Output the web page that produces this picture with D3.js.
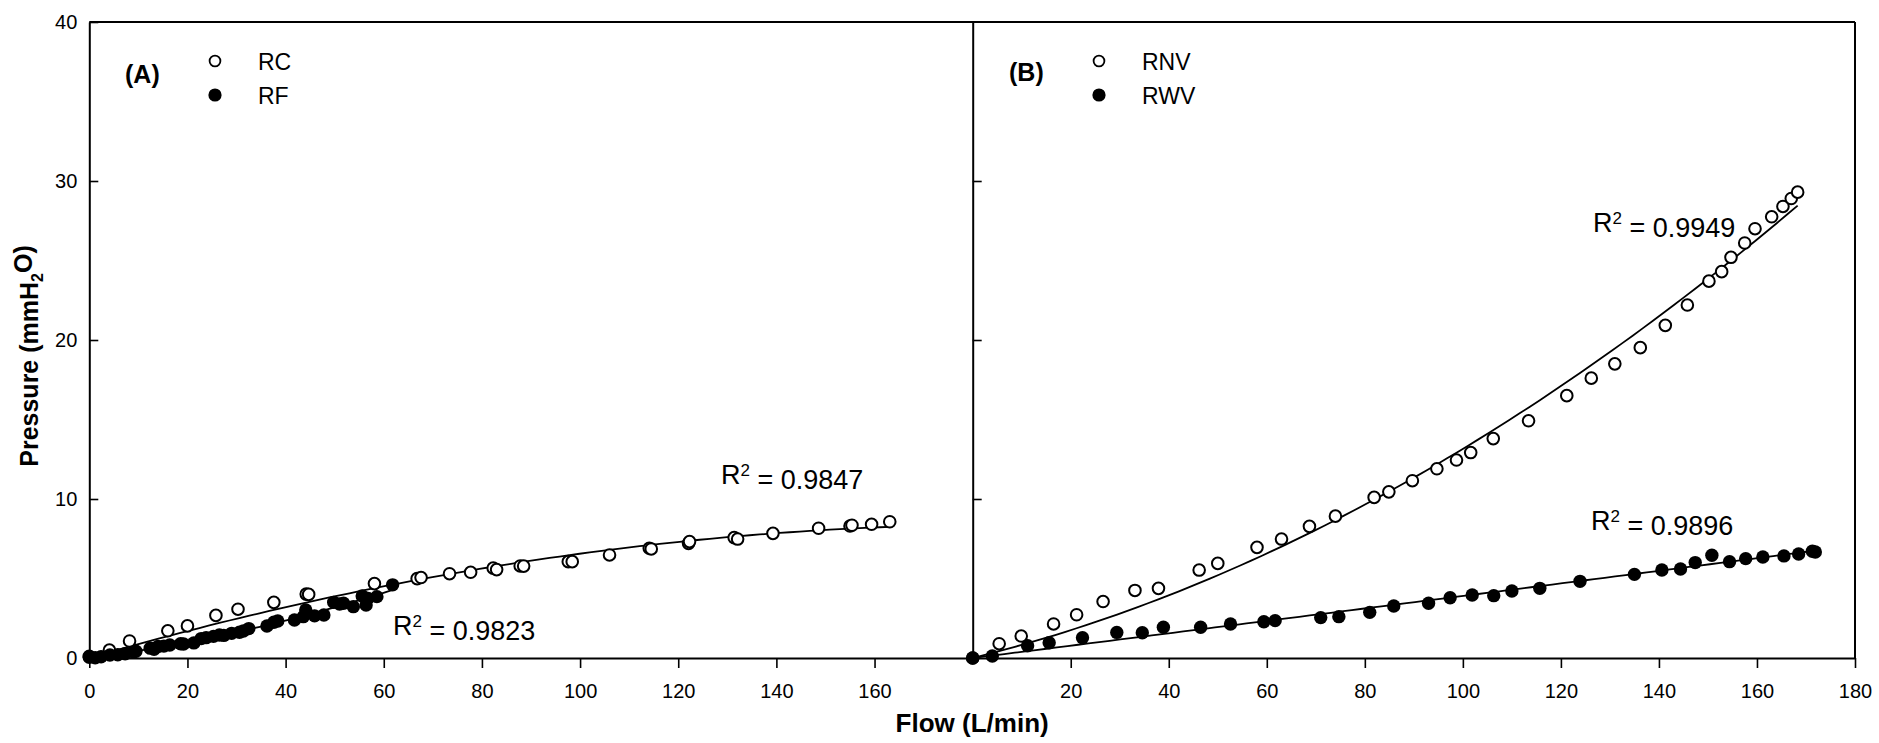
<!DOCTYPE html>
<html>
<head>
<meta charset="utf-8">
<script src="https://cdn.jsdelivr.net/npm/d3@7"></script>
<style>
  body { margin: 0; background: #fff; }
  svg text { font-family: "Liberation Sans", Arial, sans-serif; fill: #000; }
</style>
</head>
<body>
<div id="chart"></div>
<script>
// panel A : RC (open) and RF (filled)
const rcFlow = [0, 4.1, 8.2, 16.0, 20.0, 25.8, 30.3, 37.6, 44.2, 44.7, 58.1, 66.8, 67.6, 73.4, 77.7, 82.3, 83.0, 87.8, 88.5, 97.6, 98.4, 106.0, 114.1, 114.5, 122.1, 122.3, 131.4, 132.1, 139.3, 148.6, 155.0, 155.4, 159.4, 163.1];
const rcPressure = [0.1, 0.5, 1.07, 1.71, 2.02, 2.68, 3.07, 3.5, 4.02, 4.0, 4.68, 4.99, 5.06, 5.3, 5.39, 5.65, 5.56, 5.79, 5.78, 6.06, 6.06, 6.48, 6.9, 6.86, 7.21, 7.32, 7.57, 7.48, 7.84, 8.16, 8.3, 8.35, 8.41, 8.57];

const rfFlow = [0, 1.2, 2.4, 4.2, 5.8, 7.3, 9.0, 9.5, 12.4, 13.2, 14.0, 15.2, 16.4, 18.6, 19.2, 21.3, 22.8, 23.8, 25.3, 26.5, 27.4, 29.0, 30.6, 31.4, 32.5, 36.2, 37.6, 38.4, 41.8, 43.6, 44.1, 45.9, 47.8, 49.8, 51.0, 51.8, 53.8, 55.6, 56.4, 56.8, 58.6, 61.8];
const rfPressure = [0.05, 0.02, 0.08, 0.19, 0.2, 0.27, 0.38, 0.42, 0.62, 0.55, 0.72, 0.75, 0.82, 0.9, 0.88, 0.95, 1.22, 1.28, 1.36, 1.45, 1.42, 1.55, 1.62, 1.7, 1.85, 2.01, 2.25, 2.33, 2.39, 2.6, 3.02, 2.65, 2.7, 3.5, 3.4, 3.44, 3.23, 3.9, 3.33, 3.75, 3.86, 4.6];

// panel B : RNV (open) and RWV (filled)
const rnvFlow = [0, 5.4, 9.9, 16.5, 21.2, 26.6, 33.1, 37.9, 46.2, 50.0, 58.0, 63.0, 68.7, 74.0, 81.9, 84.9, 89.7, 94.7, 98.7, 101.6, 106.2, 113.4, 121.2, 126.2, 131.0, 136.2, 141.3, 145.8, 150.2, 152.8, 154.7, 157.5, 159.6, 163.0, 165.3, 167.0, 168.3];
const rnvPressure = [0, 0.9, 1.38, 2.14, 2.72, 3.55, 4.25, 4.38, 5.53, 5.95, 6.96, 7.48, 8.28, 8.92, 10.1, 10.45, 11.15, 11.9, 12.45, 12.92, 13.8, 14.92, 16.5, 17.6, 18.5, 19.52, 20.92, 22.2, 23.7, 24.3, 25.2, 26.1, 27.0, 27.75, 28.4, 28.9, 29.3];

const rwvFlow = [0, 4.0, 11.2, 15.6, 22.4, 29.4, 34.6, 38.9, 46.5, 52.6, 59.4, 61.7, 71.0, 74.7, 81.0, 85.9, 93.0, 97.4, 101.9, 106.3, 110.0, 115.7, 123.9, 135.0, 140.6, 144.4, 147.4, 150.8, 154.4, 157.7, 161.2, 165.5, 168.5, 171.3, 171.9];
const rwvPressure = [0, 0.13, 0.77, 0.96, 1.28, 1.61, 1.59, 1.93, 1.93, 2.14, 2.28, 2.35, 2.54, 2.6, 2.87, 3.27, 3.44, 3.79, 3.96, 3.92, 4.21, 4.38, 4.82, 5.26, 5.53, 5.6, 6.0, 6.46, 6.06, 6.25, 6.35, 6.42, 6.54, 6.71, 6.67];

const yTicks = [0, 10, 20, 30, 40];
const xTicksA = [0, 20, 40, 60, 80, 100, 120, 140, 160];
const xTicksB = [20, 40, 60, 80, 100, 120, 140, 160, 180];
const r2Labels = ["0.9847", "0.9823", "0.9949", "0.9896"];

const W = 1879, H = 743;
const pLeft = 89.3, pMid = 972.7, pRight = 1855, pTop = 22, pBottom = 658;

const svg = d3.select("#chart").append("svg")
  .attr("width", W).attr("height", H);

const xA = d3.scaleLinear().domain([0, 180]).range([pLeft, pMid]);
const xB = d3.scaleLinear().domain([0, 180]).range([pMid, pRight]);
const y = d3.scaleLinear().domain([0, 40]).range([pBottom, pTop]);

// quadratic least squares through the origin:  p = b x + c x^2
function quadFit(xs, ys) {
  let s2 = 0, s3 = 0, s4 = 0, t1 = 0, t2 = 0;
  xs.forEach((x, i) => {
    const v = ys[i];
    s2 += x * x; s3 += x * x * x; s4 += x * x * x * x;
    t1 += v * x; t2 += v * x * x;
  });
  const det = s2 * s4 - s3 * s3;
  const b = (t1 * s4 - t2 * s3) / det;
  const c = (s2 * t2 - s3 * t1) / det;
  return x => b * x + c * x * x;
}

function drawFit(xs, ys, xScale) {
  const f = quadFit(xs, ys);
  const lo = d3.min(xs), hi = d3.max(xs);
  const pts = d3.range(0, 81).map(i => lo + (hi - lo) * i / 80);
  svg.append("path")
    .datum(pts)
    .attr("fill", "none")
    .attr("stroke", "#000")
    .attr("stroke-width", 1.8)
    .attr("d", d3.line().x(d => xScale(d)).y(d => y(f(d))));
}

function drawPoints(xs, ys, xScale, open) {
  svg.append("g").selectAll("circle")
    .data(xs)
    .enter()
    .append("circle")
    .attr("cx", d => xScale(d))
    .attr("cy", (d, i) => y(ys[i]))
    .attr("r", open ? 5.8 : 6.7)
    .attr("fill", open ? "#fff" : "#000")
    .attr("stroke", "#000")
    .attr("stroke-width", open ? 2 : 0);
}

// fit lines
drawFit(rcFlow, rcPressure, xA);
drawFit(rfFlow, rfPressure, xA);
drawFit(rnvFlow, rnvPressure, xB);
drawFit(rwvFlow, rwvPressure, xB);

// points
drawPoints(rcFlow, rcPressure, xA, true);
drawPoints(rfFlow, rfPressure, xA, false);
drawPoints(rnvFlow, rnvPressure, xB, true);
drawPoints(rwvFlow, rwvPressure, xB, false);

// axes
function styleAxis(g) {
  g.selectAll("path").attr("stroke-width", 2);
  g.selectAll("line").attr("stroke-width", 1.6);
  g.selectAll("text").style("font-size", "20px").attr("font-family", null);
}

svg.append("g")
  .attr("transform", `translate(${pLeft},0)`)
  .call(d3.axisLeft(y).tickValues(yTicks).tickSizeInner(-9).tickSizeOuter(0).tickPadding(12))
  .call(styleAxis);

svg.append("g")
  .attr("transform", `translate(${pMid},0)`)
  .call(d3.axisLeft(y).tickValues([10, 20, 30]).tickSizeInner(-9).tickSizeOuter(0).tickFormat(""))
  .call(styleAxis);

svg.append("g")
  .attr("transform", `translate(0,${pBottom})`)
  .call(d3.axisBottom(xA).tickValues(xTicksA).tickSize(10).tickSizeOuter(0).tickPadding(16))
  .call(styleAxis);

svg.append("g")
  .attr("transform", `translate(0,${pBottom})`)
  .call(d3.axisBottom(xB).tickValues(xTicksB).tickSize(10).tickSizeOuter(0).tickPadding(16))
  .call(styleAxis);

// frame top and right
svg.append("line").attr("x1", pLeft).attr("x2", pRight).attr("y1", pTop).attr("y2", pTop)
  .attr("stroke", "#000").attr("stroke-width", 2);
svg.append("line").attr("x1", pRight).attr("x2", pRight).attr("y1", pTop).attr("y2", pBottom)
  .attr("stroke", "#000").attr("stroke-width", 2);

// axis titles
const yt = svg.append("text")
  .attr("transform", `translate(38,${(pTop + pBottom) / 2 + 16}) rotate(-90)`)
  .attr("text-anchor", "middle")
  .style("font-size", "25px").style("font-weight", "bold");
yt.append("tspan").text("Pressure (mmH");
yt.append("tspan").attr("dy", "0.3em").style("font-size", "16px").text("2");
yt.append("tspan").attr("dy", "-0.45em").text("O)");

svg.append("text")
  .attr("x", (pLeft + pRight) / 2).attr("y", 732)
  .attr("text-anchor", "middle")
  .style("font-size", "26px").style("font-weight", "bold")
  .text("Flow (L/min)");

// panel labels and legends
function legend(x0, lab, names, labBase) {
  svg.append("text").attr("x", x0).attr("y", labBase)
    .style("font-size", "25px").style("font-weight", "bold").text(lab);
  names.forEach((nm, i) => {
    const cy = 61 + i * 34;
    svg.append("circle").attr("cx", x0 + 90).attr("cy", cy)
      .attr("r", i === 0 ? 5.4 : 6.6)
      .attr("fill", i === 0 ? "#fff" : "#000")
      .attr("stroke", "#000").attr("stroke-width", i === 0 ? 1.8 : 0);
    svg.append("text").attr("x", x0 + 133).attr("y", cy + 9)
      .style("font-size", "23px").text(nm);
  });
}
legend(125, "(A)", ["RC", "RF"], 83);
legend(1009, "(B)", ["RNV", "RWV"], 81);

// R² annotations
function r2(x, yb, val) {
  const t = svg.append("text").attr("x", x).attr("y", yb).style("font-size", "27px");
  t.append("tspan").text("R");
  t.append("tspan").attr("dy", "-0.5em").style("font-size", "17px").text("2");
  t.append("tspan").attr("dy", "0.5em").text(" = " + val);
}
r2(721, 484, r2Labels[0]);
r2(393, 635, r2Labels[1]);
r2(1593, 232, r2Labels[2]);
r2(1591, 530, r2Labels[3]);
</script>
</body>
</html>
